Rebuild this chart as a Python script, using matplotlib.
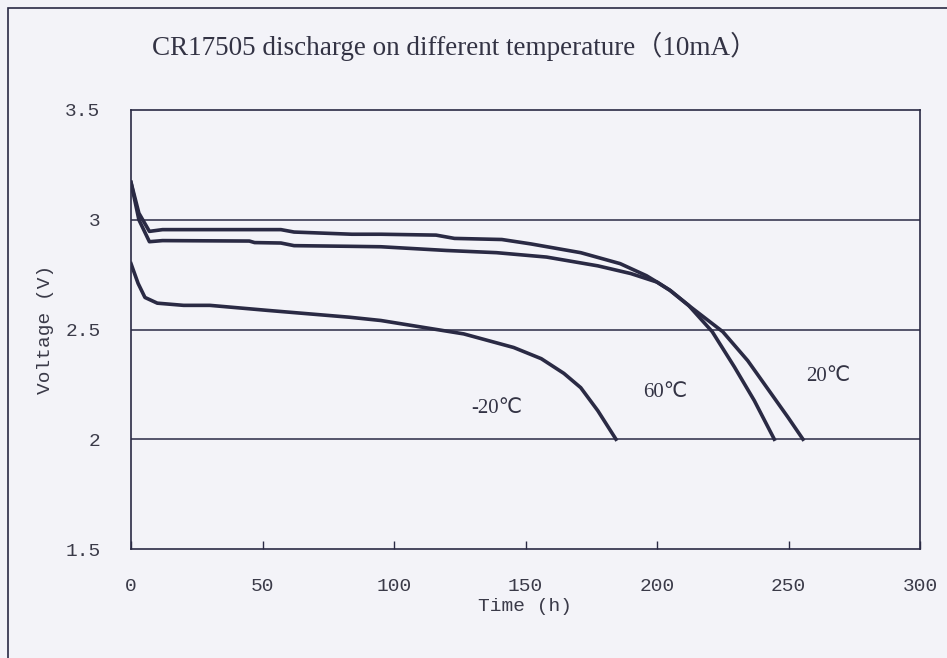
import matplotlib
matplotlib.use("Agg")
import matplotlib.pyplot as plt
from matplotlib.patches import Rectangle

# discharge curves (time in h, voltage in V)
t_60 = [0, 3, 7, 12, 30, 57, 62, 84, 95, 116, 123, 141, 152, 171, 186, 196, 200, 205, 212, 221, 229.4, 237, 244.6]
v_60 = [3.17, 3.03, 2.947, 2.955, 2.955, 2.955, 2.944, 2.934, 2.934, 2.93, 2.915, 2.91, 2.89, 2.85, 2.80, 2.745, 2.716, 2.678, 2.61, 2.49, 2.33, 2.176, 2.0]

t_20 = [0, 3, 7, 12, 45, 47, 57, 62, 83, 95, 120, 139, 158, 177.5, 190, 200, 205, 212, 225, 234.5, 243.4, 249.8, 255.5]
v_20 = [3.17, 3.0, 2.90, 2.905, 2.903, 2.896, 2.894, 2.882, 2.879, 2.877, 2.86, 2.85, 2.83, 2.79, 2.755, 2.716, 2.678, 2.61, 2.49, 2.358, 2.208, 2.10, 2.0]

t_m20 = [0, 2.7, 5.3, 10, 20, 30, 52, 83, 95, 126.5, 145.5, 156, 164.6, 171, 177.5, 184.4]
v_m20 = [2.80, 2.71, 2.646, 2.62, 2.61, 2.61, 2.587, 2.556, 2.541, 2.48, 2.418, 2.367, 2.30, 2.235, 2.13, 2.0]

x_ticks = [0, 50, 100, 150, 200, 250, 300]
y_ticks = [1.5, 2, 2.5, 3, 3.5]
y_ticklabels = ["1.5", "2", "2.5", "3", "3.5"]
grid_levels = [2, 2.5, 3]

paper = "#f3f3f8"
ink = "#2a2a44"
mono = "Liberation Mono"

fig = plt.figure(figsize=(9.47, 6.58), dpi=100, facecolor=paper)
ax = fig.add_axes([131 / 947, 1 - 549 / 658, (920 - 131) / 947, (549 - 110) / 658])
ax.set_facecolor(paper)

# outer frame of the scanned chart (only top and left edges visible)
fig.patches.append(Rectangle((8 / 947, -0.1), 1.2, 1 - 8 / 658 + 0.1, transform=fig.transFigure,
                             fill=False, edgecolor=ink, linewidth=1.2))

for g in grid_levels:
    ax.axhline(g, color=ink, linewidth=1.1, zorder=1)

ax.plot(t_60, v_60, color=ink, linewidth=2.6, zorder=3)
ax.plot(t_20, v_20, color=ink, linewidth=2.6, zorder=3)
ax.plot(t_m20, v_m20, color=ink, linewidth=2.6, zorder=3)

ax.set_xlim(0, 300)
ax.set_ylim(1.5, 3.5)
ax.set_xticks(x_ticks)
ax.set_yticks(y_ticks)
ax.set_yticklabels(y_ticklabels)
ax.tick_params(axis="x", direction="in", length=6, width=1, color=ink, pad=21,
               labelsize=14, labelcolor="#3a3a48")
ax.tick_params(axis="y", length=0, pad=22, labelsize=14, labelcolor="#3a3a48")
for lab in ax.get_xticklabels() + ax.get_yticklabels():
    lab.set_family(mono)
for s in ax.spines.values():
    s.set_color(ink)
    s.set_linewidth(1.2)

ax.set_xlabel("Time (h)", family=mono, fontsize=14, color="#3a3a48", labelpad=2)
ax.set_ylabel("Voltage (V)", family=mono, fontsize=14, color="#3a3a48", labelpad=8)

lab_font = ["Liberation Serif", "DejaVu Sans"]
ax.text(139, 2.14, "-20℃", family=lab_font, fontsize=15, color="#333344", ha="center", va="center")
ax.text(203, 2.215, "60℃", family=lab_font, fontsize=15, color="#333344", ha="center", va="center")
ax.text(265, 2.285, "20℃", family=lab_font, fontsize=15, color="#333344", ha="center", va="center")

fig.text(455 / 947, 1 - 46 / 658, "CR17505 discharge on different temperature（10mA）",
         family=["Liberation Serif", "Noto Sans CJK SC"], fontsize=19.5, color="#333344",
         ha="center", va="center")

fig.savefig("out.png", dpi=100, facecolor=paper)
